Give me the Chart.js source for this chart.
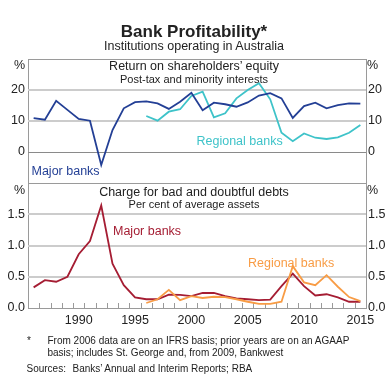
<!DOCTYPE html>
<html><head><meta charset="utf-8">
<script src="https://cdn.jsdelivr.net/npm/chart.js@4.4.1/dist/chart.umd.min.js"></script>
<style>
html,body{margin:0;padding:0;background:#fff;}
#wrap{position:relative;width:388px;height:378px;overflow:hidden;font-family:"Liberation Sans",Arial,sans-serif;color:#222;}
canvas{position:absolute;left:0;top:0;}
.t{position:absolute;white-space:nowrap;line-height:1;transform:translateY(-50%);}
.c{left:0;width:388px;text-align:center;}
.r{text-align:right;}
</style></head><body>
<div id="wrap">
<canvas id="c1" width="388" height="378"></canvas>
<canvas id="c2" width="388" height="378"></canvas>
<div class="t c" style="top:31px;font-size:17px;font-weight:bold;">Bank Profitability*</div>
<div class="t c" style="top:46px;font-size:12.5px;">Institutions operating in Australia</div>
<div class="t c" style="top:66px;font-size:12.5px;">Return on shareholders’ equity</div>
<div class="t c" style="top:79px;font-size:11px;">Post-tax and minority interests</div>
<div class="t c" style="top:191.5px;font-size:12.5px;">Charge for bad and doubtful debts</div>
<div class="t c" style="top:204px;font-size:11px;">Per cent of average assets</div>
<div class="t" style="left:31.5px;top:170.5px;font-size:12.5px;color:#233f95;">Major banks</div>
<div class="t" style="left:196.5px;top:141px;font-size:12.5px;color:#3ec3c9;">Regional banks</div>
<div class="t" style="left:113px;top:231px;font-size:12.5px;color:#a51d33;">Major banks</div>
<div class="t" style="left:248px;top:262.5px;font-size:12.5px;color:#f89c45;">Regional banks</div>
<div class="t r" style="left:0;width:25px;top:65px;font-size:12.5px;">%</div>
<div class="t" style="left:367px;top:65px;font-size:12.5px;">%</div>
<div class="t r" style="left:0;width:25px;top:190px;font-size:12.5px;">%</div>
<div class="t" style="left:367px;top:190px;font-size:12.5px;">%</div>
<div class="t" style="left:27px;top:341px;font-size:10px;">*</div>
<div class="t" style="left:47.5px;top:340.5px;font-size:10px;">From 2006 data are on an IFRS basis; prior years are on an AGAAP</div>
<div class="t" style="left:47.5px;top:352.5px;font-size:10px;">basis; includes St. George and, from 2009, Bankwest</div>
<div class="t" style="left:26.5px;top:369px;font-size:10px;">Sources:</div>
<div class="t" style="left:72.5px;top:369px;font-size:10px;">Banks’ Annual and Interim Reports; RBA</div>
</div>
<script>
const years=[1986,1987,1988,1989,1990,1991,1992,1993,1994,1995,1996,1997,1998,1999,2000,2001,2002,2003,2004,2005,2006,2007,2008,2009,2010,2011,2012,2013,2014,2015];
const regionalYears=[1996,1997,1998,1999,2000,2001,2002,2003,2004,2005,2006,2007,2008,2009,2010,2011,2012,2013,2014,2015];
const majorROE=[10.9,10.4,16.5,13.6,10.7,10.1,-4.2,7.1,14.1,16.1,16.3,15.7,13.9,16.2,19.1,13.5,15.9,15.4,14.6,16.0,18.2,19.0,17.3,11.0,14.8,15.9,14.1,15.1,15.7,15.6];
const regionalROE=[11.6,10.1,13.0,13.8,18.1,19.5,11.2,12.5,17.3,20.0,22.2,17.0,6.2,3.5,6.0,4.6,4.2,4.7,6.2,8.7];
const majorBDD=[0.33,0.445,0.42,0.5,0.86,1.07,1.64,0.71,0.365,0.17,0.14,0.14,0.215,0.21,0.19,0.24,0.24,0.19,0.155,0.14,0.125,0.135,0.35,0.55,0.35,0.2,0.22,0.17,0.1,0.1];
const regionalBDD=[0.08,0.14,0.29,0.125,0.19,0.16,0.18,0.175,0.14,0.1,0.065,0.065,0.1,0.67,0.41,0.365,0.525,0.34,0.175,0.11];
const yearTicks=[1990,1995,2000,2005,2010,2015];
const roeTicks=[0,10,20];
const bddTicks=[0,0.5,1,1.5];

const FRAME='#9a9a9a',ZERO='#8a8a8a',GRID='#cccccc',TXT='#222';
const FONT={family:'"Liberation Sans", Arial, sans-serif',size:12.5};
const BLUE='#233f95',TEAL='#3ec3c9',RED='#a51d33',ORANGE='#f89c45';
const pts=(xs,ys)=>xs.map((x,i)=>({x:x,y:ys[i]}));

function yAxis(pos,min,max,step,labels,fmt){
  return {
    type:'linear',position:pos,min:min,max:max,
    afterFit(s){s.width=(pos==='left')?28:22;},
    ticks:{stepSize:step,padding:pos==='left'?3:2,color:TXT,font:FONT,autoSkip:false,
      callback:(v)=>labels.some(l=>Math.abs(l-v)<1e-9)?fmt(v):''},
    grid:{display:false,drawTicks:false},
    border:{display:true,color:FRAME,width:1}
  };
}
function xAxis(show){
  return {
    type:'linear',min:1985.5,max:2015.5,display:show,
    afterBuildTicks(s){s.ticks=yearTicks.map(v=>({value:v}));},
    afterFit(s){if(show) s.height=20;},
    ticks:{color:TXT,font:FONT,padding:5,autoSkip:false,maxRotation:0,callback:(v)=>String(v)},
    grid:{display:false,drawTicks:false},
    border:{display:true,color:FRAME,width:1}
  };
}
const line=(label,data,color)=>({label:label,data:data,borderColor:color,backgroundColor:color,borderWidth:1.8,pointRadius:0,tension:0,fill:false});

// horizontal grid lines at the labelled tick values, frame lines at the panel edges, year marks
function panelGrid(labels,min,max,marks){
  return {id:'panelGrid',beforeDatasetsDraw(ch){
    const y=ch.scales.y,a=ch.chartArea,c=ch.ctx;
    c.save();
    labels.forEach(v=>{
      const py=Math.round(y.getPixelForValue(v));
      if(Math.abs(v)<1e-9){c.strokeStyle=ZERO;c.lineWidth=1;c.beginPath();c.moveTo(a.left,py+0.5);c.lineTo(a.right,py+0.5);c.stroke();}
      else {c.strokeStyle=GRID;c.lineWidth=2;c.beginPath();c.moveTo(a.left,py);c.lineTo(a.right,py);c.stroke();}
    });
    c.strokeStyle=FRAME;c.lineWidth=1;c.beginPath();
    [min,max].forEach(v=>{const py=Math.round(y.getPixelForValue(v))+0.5;c.moveTo(a.left,py);c.lineTo(a.right,py);});
    c.stroke();
    if(marks){
      const x=ch.scales.x;c.beginPath();
      for(let i=0;i<years.length-1;i++){
        const px=Math.round(x.getPixelForValue(years[i]+0.5))+0.5;
        c.moveTo(px,a.bottom);c.lineTo(px,a.bottom-5);
      }
      c.stroke();
    }
    c.restore();
  }};
}

const common={responsive:false,animation:false,events:[],
  plugins:{legend:{display:false},title:{display:false},tooltip:{enabled:false}}};

new Chart(document.getElementById('c1'),{
  type:'line',
  data:{datasets:[line('Major banks',pts(years,majorROE),BLUE),line('Regional banks',pts(regionalYears,regionalROE),TEAL)]},
  options:Object.assign({},common,{
    layout:{padding:{top:59,bottom:195,left:0,right:0}},
    scales:{x:xAxis(false),y:yAxis('left',-10,30,10,roeTicks,v=>String(v)),y2:yAxis('right',-10,30,10,roeTicks,v=>String(v))}
  }),
  plugins:[panelGrid(roeTicks,-10,30,false)]
});
new Chart(document.getElementById('c2'),{
  type:'line',
  data:{datasets:[line('Regional banks',pts(regionalYears,regionalBDD),ORANGE),line('Major banks',pts(years,majorBDD),RED)]},
  options:Object.assign({},common,{
    layout:{padding:{top:183,bottom:50,left:0,right:0}},
    scales:{x:xAxis(true),y:yAxis('left',0,2,0.5,bddTicks,v=>v.toFixed(1)),y2:yAxis('right',0,2,0.5,bddTicks,v=>v.toFixed(1))}
  }),
  plugins:[panelGrid(bddTicks,0,2,true)]
});
</script>
</body></html>
